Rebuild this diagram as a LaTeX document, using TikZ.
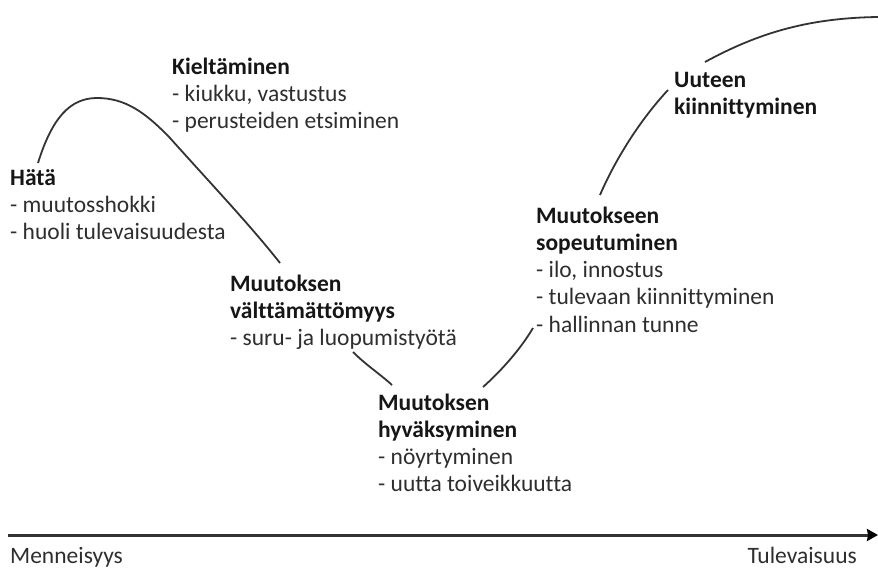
\documentclass[tikz,border=0pt]{standalone}
\usepackage{fontspec}
\setmainfont{Carlito}[Ligatures={NoCommon}]
\usepackage{tikz}
\usetikzlibrary{arrows.meta, positioning}
\definecolor{curvegray}{HTML}{333333}
\definecolor{titlegray}{HTML}{161616}
\definecolor{textgray}{HTML}{2E2E2E}
\newcommand{\phase}[1]{\strut{\bfseries\color{titlegray}#1}}

\begin{document}
\begin{tikzpicture}[x=1pt, y=-1pt]
    \tikzstyle{stage} = [anchor=north west, inner sep=0pt, align=left, text=textgray, font=\fontsize{23.5}{27.2}\selectfont]
    \tikzstyle{axislabel} = [inner sep=0pt, text=textgray, font=\fontsize{23.5}{27.2}\selectfont]
    \tikzstyle{curve} = [draw=curvegray, line width=1.8pt]
    \tikzstyle{timeline} = [draw=curvegray, line width=3pt, -{Stealth[length=11pt, width=12pt, inset=1pt, color=black]}]

    \useasboundingbox (0,0) rectangle (878,571);

    \node[stage] (hata) at (10,166) {\phase{Hätä}\\- muutosshokki\\- huoli tulevaisuudesta};
    \node[stage] (kielto) at (172,55) {\phase{Kieltäminen}\\- kiukku, vastustus\\- perusteiden etsiminen};
    \node[stage] (valttam) at (230,272) {\phase{Muutoksen}\\\phase{välttämättömyys}\\- suru- ja luopumistyötä};
    \node[stage] (hyvaks) at (378,391) {\phase{Muutoksen}\\\phase{hyväksyminen}\\- nöyrtyminen\\- uutta toiveikkuutta};
    \node[stage] (sopeut) at (536,204) {\phase{Muutokseen}\\\phase{sopeutuminen}\\- ilo, innostus\\- tulevaan kiinnittyminen\\- hallinnan tunne};
    \node[stage] (uuteen) at (674,68) {\phase{Uuteen}\\\phase{kiinnittyminen}};

    \coordinate (shock) at (38,163);
    \coordinate (peak) at (97,98);
    \coordinate (fall) at (170,138);
    \coordinate (need) at (280,263);
    \coordinate (dipin) at (353,352);
    \coordinate (dipout) at (392,385);
    \coordinate (risein) at (483,387);
    \coordinate (riseout) at (533,328);
    \coordinate (climbin) at (600,195);
    \coordinate (climbout) at (668,90);
    \coordinate (topin) at (705,62);
    \coordinate (topout) at (878,17);

    \draw[curve] (shock) .. controls (52,118) and (70,98) .. (peak)
        .. controls (125,98) and (145,112) .. (fall)
        .. controls (213,186) and (250,225) .. (need);
    \draw[curve] (dipin) .. controls (366,365) and (380,374) .. (dipout);
    \draw[curve] (risein) .. controls (500,372) and (520,350) .. (riseout);
    \draw[curve] (climbin) .. controls (615,160) and (640,120) .. (climbout);
    \draw[curve] (topin) .. controls (760,32) and (810,18) .. (topout);

    \coordinate (past) at (8,535);
    \coordinate (future) at (878,535);
    \draw[timeline] (past) -- (future);

    \node[axislabel, anchor=base west] (menneisyys) at (10,563) {Menneisyys};
    \node[axislabel, anchor=base east] (tulevaisuus) at (857,563) {Tulevaisuus};
\end{tikzpicture}
\end{document}
